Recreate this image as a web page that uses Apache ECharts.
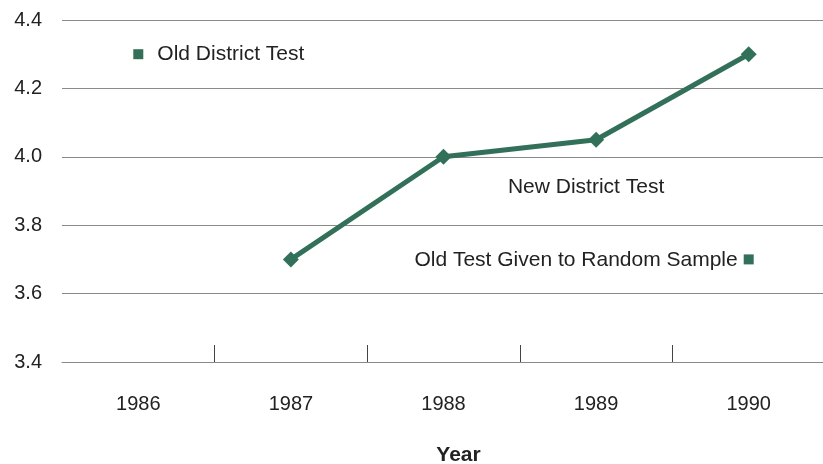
<!DOCTYPE html>
<html>
<head>
<meta charset="utf-8">
<script src="https://cdn.jsdelivr.net/npm/echarts@6/dist/echarts.min.js"></script>
<style>
  html, body { margin: 0; padding: 0; background: #fff; }
  #chart { width: 823px; height: 464px; }
</style>
</head>
<body>
<div id="chart"></div>
<script>
// Scores by year
const years = ['1986', '1987', '1988', '1989', '1990'];
const newDistrictTest = [null, 3.7, 4.0, 4.05, 4.3];
const oldDistrictTest = [['1986', 4.3]];
const oldTestRandomSample = [['1990', 3.7]];
const newTestLabelAnchor = [['1989', 3.91]];
const yTicks = { min: 3.4, max: 4.4, step: 0.2 };

const green = '#33705a';
const textColor = '#222';
const font = '"Liberation Sans", Arial, sans-serif';

const chart = echarts.init(document.getElementById('chart'), null, { renderer: 'canvas' });
chart.setOption({
  animation: false,
  textStyle: { fontFamily: font },
  grid: { left: 62, right: -2, top: 20, bottom: 102, outerBoundsMode: 'none', containLabel: false },
  xAxis: {
    type: 'category',
    data: years,
    boundaryGap: true,
    name: 'Year',
    nameLocation: 'middle',
    nameGap: 83,
    nameTextStyle: { fontSize: 21, fontWeight: 'bold', color: textColor, padding: [0, 0, 0, 30] },
    axisLine: { lineStyle: { color: '#8a8a8a', width: 1 } },
    axisTick: {
      show: true,
      inside: true, length: 17,
      lineStyle: { color: '#444', width: 1 },
      // no tick on the left edge of the plot
      interval: function (index) { return index !== 0; }
    },
    axisLabel: { fontSize: 20, color: textColor, margin: 32, interval: 0 }
  },
  yAxis: {
    type: 'value',
    min: yTicks.min, max: yTicks.max, interval: yTicks.step,
    axisLine: { show: false },
    axisTick: { show: false },
    axisLabel: { fontSize: 20, color: textColor, margin: 20, formatter: (v) => v.toFixed(1) },
    splitLine: { lineStyle: { color: '#8a8a8a', width: 1 } }
  },
  series: [
    {
      name: 'New District Test',
      type: 'line',
      data: newDistrictTest,
      connectNulls: false,
      symbol: 'diamond',
      symbolSize: 16,
      lineStyle: { color: green, width: 5, join: 'round' },
      itemStyle: { color: green },
      z: 3
    },
    {
      name: 'New District Test',
      type: 'scatter',
      data: newTestLabelAnchor,
      symbolSize: 0,
      silent: true,
      itemStyle: { opacity: 1 },
      label: {
        show: true, position: 'inside', offset: [-10, 0],
        formatter: 'New District Test', fontSize: 21, color: textColor
      }
    },
    {
      name: 'Old District Test',
      type: 'scatter',
      data: oldDistrictTest,
      symbol: 'rect',
      symbolSize: 10,
      itemStyle: { color: green, opacity: 1 },
      label: {
        show: true, position: 'right', distance: 14,
        formatter: 'Old District Test', fontSize: 21, color: textColor
      }
    },
    {
      name: 'Old Test Given to Random Sample',
      type: 'scatter',
      data: oldTestRandomSample,
      symbol: 'rect',
      symbolSize: 10,
      itemStyle: { color: green, opacity: 1 },
      label: {
        show: true, position: 'left', distance: 6, offset: [0, 1],
        formatter: 'Old Test Given to Random Sample', fontSize: 21, color: textColor
      }
    }
  ]
});
</script>
</body>
</html>
